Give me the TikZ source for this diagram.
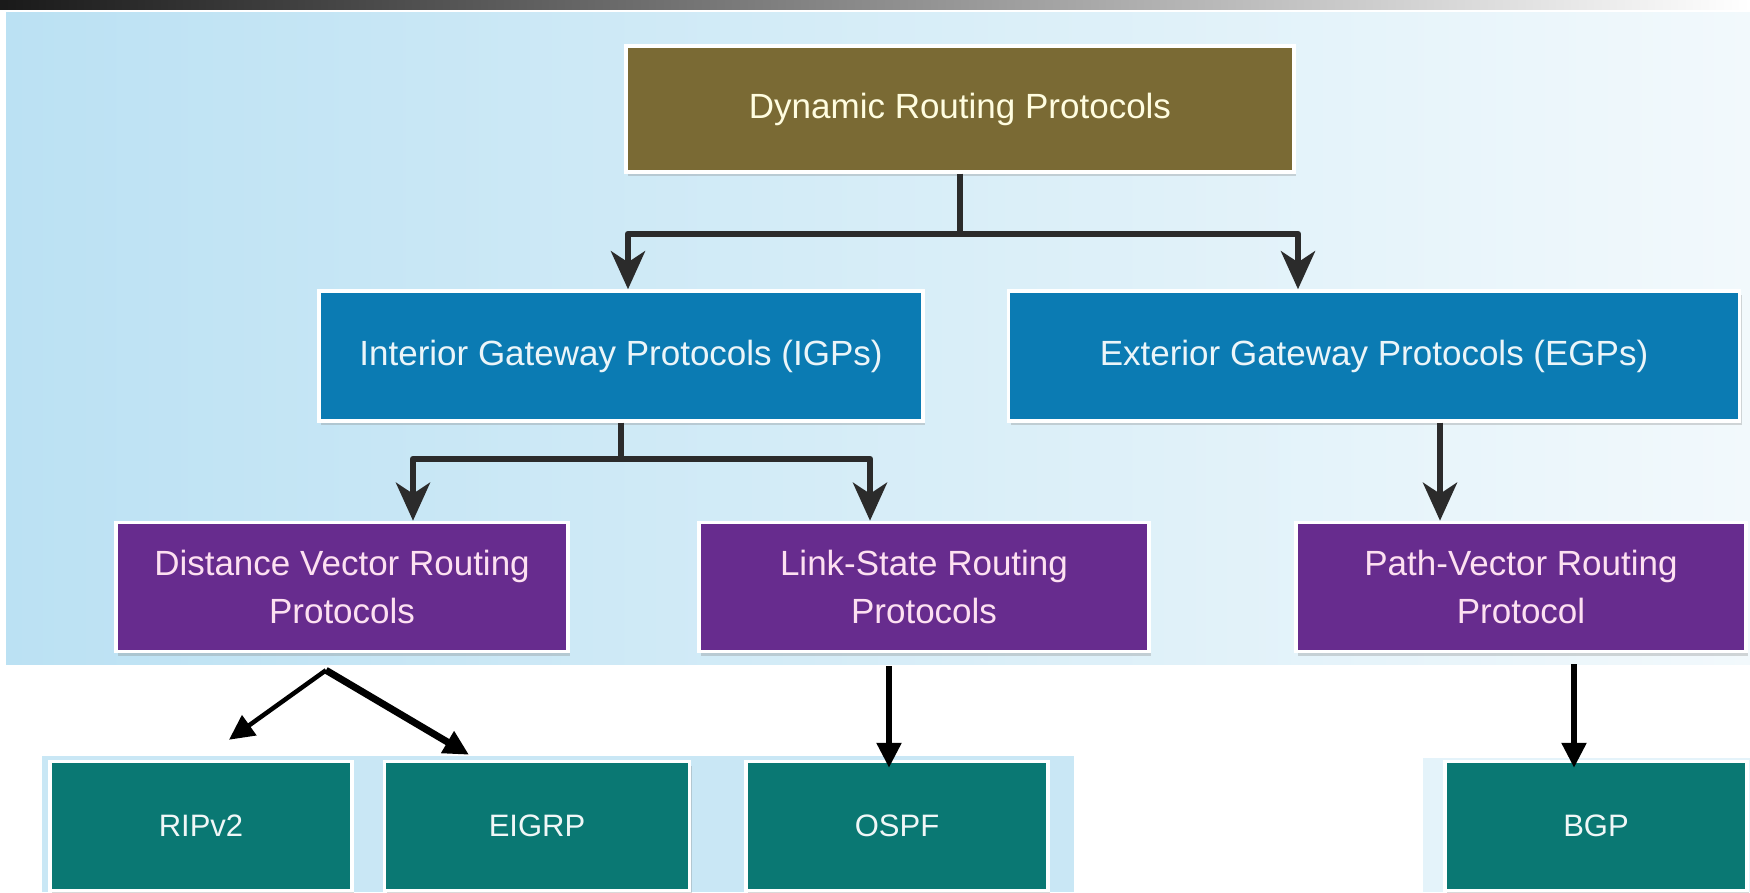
\documentclass[tikz,border=0pt]{standalone}
\usepackage{fontspec}
\setmainfont{Liberation Sans}
\usetikzlibrary{arrows.meta,shadows}

\definecolor{drpbrown}{HTML}{7A6A34}
\definecolor{gwblue}{HTML}{0B7BB3}
\definecolor{rtpurple}{HTML}{672C8E}
\definecolor{prteal}{HTML}{0A7873}
\definecolor{bgleft}{HTML}{BBE1F3}
\definecolor{bgright}{HTML}{F2F9FC}

\begin{document}
\begin{tikzpicture}[
                x=1pt,y=1pt,
                box/.style={draw=white,line width=3.5pt,align=center,
                            font=\fontsize{35}{48}\selectfont,
                            drop shadow={shadow xshift=2pt,shadow yshift=-4pt,opacity=.3}},
                leaf/.style={box,fill=prteal,text=white!94!prteal,
                             minimum width=302,minimum height=129,
                             font=\fontsize{31}{36}\selectfont},
                tree/.style={draw=black!83,line width=6pt,line join=round},
                treetip/.style={tree,-{Stealth[length=38pt,width=34pt,inset=11pt]}},
                down/.style={draw=black,line width=5.5pt,
                             -{Triangle[length=25pt,width=24pt]}}] %

% backdrop
\useasboundingbox (0,0) rectangle (1750,892);
\fill[white] (0,0) rectangle (1750,892);
\shade[left color=black!90,right color=white] (0,882) rectangle (1750,892);
\shade[left color=bgleft,right color=bgright] (6,228) rectangle (1750,879);
\fill[bgleft!80!white] (42,0) rectangle (1074,136);
\fill[bgleft!40!white] (1423,0) rectangle (1750,134);

                    % 1
                    \node[box,fill=drpbrown,text=white!88!yellow,minimum width=668,minimum height=126] (DRP) at (960,783) {Dynamic Routing Protocols}; % 1

                    % 2
                    \node[box,fill=gwblue,text=white!92!gwblue,minimum width=604,minimum height=130] (IGP) at (621,536) {Interior Gateway Protocols (IGPs)}; % 2
                    \node[box,fill=gwblue,text=white!92!gwblue,minimum width=731,minimum height=130] (EGP) at (1374,536) {Exterior Gateway Protocols (EGPs)}; % 2

                    % 3
                    \node[box,fill=rtpurple,text=white!88!magenta,minimum width=452,minimum height=129] (DV) at (342,305) {Distance Vector Routing\\Protocols}; % 3
                    \node[box,fill=rtpurple,text=white!88!magenta,minimum width=450,minimum height=129] (LS) at (924,305) {Link-State Routing\\Protocols}; % 3
                    \node[box,fill=rtpurple,text=white!88!magenta,minimum width=450,minimum height=129] (PV) at (1521,305) {Path-Vector Routing\\Protocol}; % 3

                    % 4
                    \node[leaf] (RIP) at (201,66) {RIPv2}; % 4
                    \node[leaf,minimum width=305] (EIGRP) at (537,66) {EIGRP}; % 4
                    \node[leaf] (OSPF) at (897,66) {OSPF}; % 4
                    \node[leaf] (BGP) at (1596,66) {BGP}; % 4

                    \coordinate (J1) at ([yshift=-60]DRP.south);
                    \coordinate (J2) at ([yshift=-36]IGP.south);
                    \coordinate (J3) at ([shift={(-16,-17)}]DV.south);

                    \draw[tree] (DRP.south) -- (J1);
                    \draw[treetip] (J1) -| ([xshift=7]IGP.north);
                    \draw[treetip] (J1) -| ([xshift=-76]EGP.north);

                    \draw[tree] (IGP.south) -- (J2);
                    \draw[treetip] (J2) -| ([xshift=71]DV.north);
                    \draw[treetip] (J2) -| ([xshift=-54]LS.north);
                    \draw[treetip] ([xshift=66]EGP.south) -- ([xshift=-81]PV.north);

%
                    \draw[down,line width=4.5pt] (J3) -- ([shift={(28,20)}]RIP.north);
                    \draw[down,line width=7pt] (J3) -- ([shift={(-68,5)}]EIGRP.north);
                    \draw[down] ([shift={(-35,-13)}]LS.south) -- ([shift={(-8,-8)}]OSPF.north);
                    \draw[down] ([shift={(53,-11)}]PV.south) -- ([shift={(-22,-8)}]BGP.north);

                    \end{tikzpicture}
\end{document}
